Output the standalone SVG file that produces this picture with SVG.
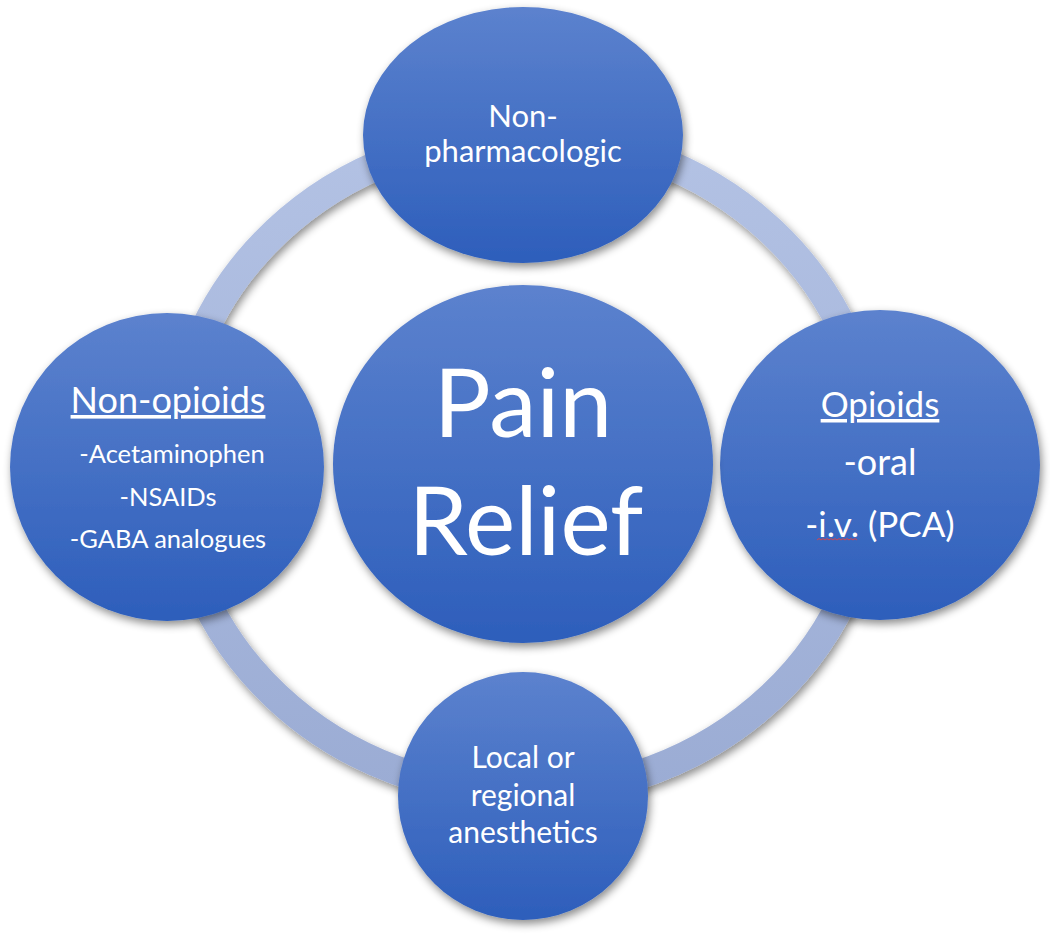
<svg xmlns="http://www.w3.org/2000/svg" width="1050" height="935" viewBox="0 0 1050 935">
<defs>
<linearGradient id="gNode" x1="0" y1="0" x2="0" y2="1">
<stop offset="0" stop-color="#5C82CE"/>
<stop offset="1" stop-color="#2D5EBB"/>
</linearGradient>
<linearGradient id="gRing" x1="0" y1="0" x2="0" y2="1">
<stop offset="0" stop-color="#B3C2E4"/>
<stop offset="1" stop-color="#9BACD4"/>
</linearGradient>
<filter id="sh" x="-20%" y="-20%" width="140%" height="140%">
<feDropShadow dx="2" dy="4" stdDeviation="4" flood-color="#000" flood-opacity="0.45"/>
</filter>
</defs>
<style>
.node{fill:url(#gNode);filter:url(#sh);}
.t{font-family:Lato,"Open Sans","Liberation Sans",sans-serif;fill:#FFFFFF;text-anchor:middle;}
</style>
<rect width="1050" height="935" fill="#FFFFFF"/>
<g id="connectors">
<ellipse cx="524" cy="464" rx="350" ry="329" fill="none" stroke="url(#gRing)" stroke-width="29" filter="url(#sh)"/>
</g>
<g id="node-top">
<ellipse class="node" cx="523" cy="135" rx="160" ry="128"/>
<text class="t" x="523" y="127" font-size="31">Non-</text>
<text class="t" x="523" y="162" font-size="31">pharmacologic</text>
</g>
<g id="node-left">
<ellipse class="node" cx="167" cy="467" rx="157" ry="154"/>
<text class="t" x="168" y="413" font-size="36" text-decoration="underline">Non-opioids</text>
<text class="t" x="172" y="463" font-size="25.5">-Acetaminophen</text>
<text class="t" x="168" y="506" font-size="25.5">-NSAIDs</text>
<text class="t" x="168" y="548" font-size="25.5">-GABA analogues</text>
</g>
<g id="node-right">
<ellipse class="node" cx="880" cy="465" rx="160" ry="155"/>
<text class="t" x="880" y="417" font-size="35" text-decoration="underline">Opioids</text>
<text class="t" x="880" y="475" font-size="36">-oral</text>
<text class="t" x="880" y="537" font-size="35">-i.v. (PCA)</text>
<path d="M817 540 l2 -1.5 l2 1.5 l2 -1.5 l2 1.5 l2 -1.5 l2 1.5 l2 -1.5 l2 1.5 l2 -1.5 l2 1.5 l2 -1.5 l2 1.5 l2 -1.5 l2 1.5 l2 -1.5 l2 1.5 l2 -1.5 l2 1.5 l2 -1.5 l2 1.5" fill="none" stroke="#D9434B" stroke-width="1"/>
</g>
<g id="node-bottom">
<ellipse class="node" cx="523" cy="796" rx="125" ry="124"/>
<text class="t" x="523" y="768" font-size="30">Local or</text>
<text class="t" x="523" y="806" font-size="30">regional</text>
<text class="t" x="523" y="843" font-size="30">anesthetics</text>
</g>
<g id="node-center">
<ellipse class="node" cx="523" cy="464" rx="190" ry="179"/>
<text class="t" x="523" y="437" font-size="95">Pain</text>
<text class="t" x="526" y="555" font-size="95">Relief</text>
</g>
</svg>
